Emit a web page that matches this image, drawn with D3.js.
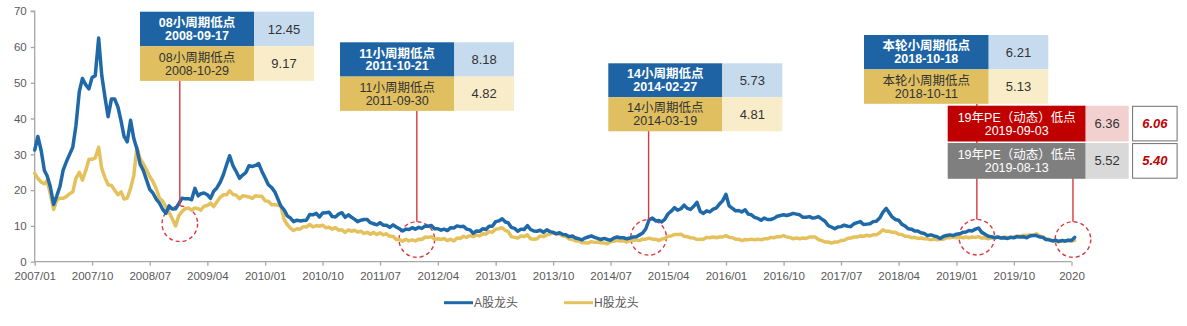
<!DOCTYPE html>
<html>
<head>
<meta charset="utf-8">
<script src="https://cdn.jsdelivr.net/npm/d3@7/dist/d3.min.js"></script>
<style>
  html, body { margin: 0; padding: 0; background: #fff; }
  svg { display: block; }
  text { font-family: "Liberation Sans", Arial, "Noto Sans CJK SC", sans-serif; }
</style>
</head>
<body>
<svg id="chart" width="1187" height="326"></svg>
<script>
// PE of A-share and H-share leaders, semi-monthly observations from 2007/01
const seriesNames = ["A股龙头", "H股龙头"];
const aLeaders = [
  31.2,35,31,25.5,24,21,16,18.4,21,25.5,28,30,32,38,47.5,51.2,49.4,48.3,51.5,52,
  62.5,52,46,40.5,45.5,45.5,43.2,39.2,35,33.5,39.5,34.5,31.5,27.3,25.4,22.8,20.2,19.2,17.5,16.4,
  14.6,13.5,15.6,14.7,14.8,16.2,17.7,17.6,17.6,17.3,20.5,18.4,19.0,19.2,18.7,17.7,19.7,20.6,22.2,24.3,
  27,29.6,26.8,25.2,23.3,24.2,24.9,26.8,26.6,26.9,27.4,25.3,23.4,21.5,20.7,19.5,17.7,15.6,14.5,12.8,
  12.2,11.2,11.6,11.4,11.5,11.6,13.2,13.1,13.5,12.5,13.6,13.7,13.8,12.6,12.5,13.3,13.7,12.4,13.1,12.4,
  11.9,11.2,11.6,11.8,11.8,10.9,10.6,10.3,10.9,10.2,10.2,9.6,10.3,9.7,9.2,8.6,9.1,9.0,9.5,9.1,
  9.6,9.3,10.0,9.9,10.1,9.2,9.2,8.8,9.1,8.7,9.5,9.4,10.0,9.8,9.9,9.1,8.9,7.9,8.6,8.5,
  9.2,9.0,9.9,9.9,11.2,11.4,12.0,11.1,10.9,9.6,9.3,8.5,9.1,9.0,10.1,9.0,8.6,8.5,8.8,8.2,
  8.9,8.4,8.2,7.8,8.1,7.6,7.5,7.0,7.2,6.6,6.4,6.1,6.6,6.9,7.2,6.8,6.5,6.2,6.5,6.2,
  6.0,6.6,6.9,6.7,6.7,6.4,6.6,6.9,7.0,7.5,8,9.2,11.8,12.2,11.4,11.5,11.1,11.8,13.4,14.1,
  15.1,14.4,14.8,15.8,14.9,14.6,15.5,16.6,14.0,13.5,14.2,13.9,14.7,15.0,16.1,17.0,18.8,15.6,14.9,14.2,
  14.3,13.9,14.5,13.3,13.1,12.4,12.1,11.6,12.2,11.8,11.8,12.1,12.7,12.9,13.1,12.9,13.2,13.5,13.3,13.1,
  12.4,12.4,12.6,12.2,12.3,12.6,11.9,11.3,10.1,9.7,9.2,9.7,9.8,10.2,9.9,9.8,10.6,10.9,11.2,10.4,
  10.5,10.6,11.2,11.3,12.2,13.8,14.9,13.6,12.5,11.8,11.6,10.5,10,9.2,9.1,8.6,8.6,8.1,7.9,7.3,
  7.5,7.2,7.0,6.5,7.1,7.3,7.5,7.3,7.7,7.8,8.2,8.3,8.7,8.6,9.1,9.4,8.2,7.7,7.1,7.0,
  6.7,6.9,6.6,6.7,6.5,6.8,6.7,7.0,6.9,7.0,6.7,7.2,7.3,7.3,6.9,6.8,6.2,6.1,5.8,6.0,
  5.7,5.9,5.8,6.0,5.9,6.8
];
const hLeaders = [
  24.7,23.3,22.2,21.8,22.6,19,14.6,17.3,17.7,17.7,18.2,19,19.5,23.3,25,22.8,25.5,28.6,28.6,29,
  32,26,23.5,21.5,21.3,20,18.7,19.5,17.5,17.8,20.5,24,32,28.8,27.3,25.6,23.8,22.4,20.4,17.8,
  16.9,15.3,13.8,12.0,10.0,12.8,14.0,14.8,15.0,14.4,15.0,14.8,14.4,15.5,15.7,16.4,15.4,16.7,18.0,18.7,
  18.7,19.8,18.8,18.6,17.6,18.4,18.3,18.1,17.7,18.4,18.3,18.3,17.0,16.9,15.9,16.0,15.8,15.7,11.8,10.4,
  9.4,8.7,9.2,9.1,9.8,9.7,10.4,9.7,10.1,9.9,10.2,9.5,9.6,9.1,9.5,8.8,8.9,8.2,8.9,8.5,
  8.8,8.3,8.5,7.9,8.2,7.7,8.2,7.6,8.1,7.5,7.8,7.1,7.1,6.2,6.2,5.7,6.3,5.8,6.1,5.8,
  6.3,6.2,6.9,6.8,7.0,6.3,6.4,6.2,6.5,5.9,6.3,5.8,6.6,6.5,7.1,6.8,7.3,7.0,7.5,7.2,
  7.8,7.7,8.4,8.2,9.1,9.2,9.5,8.7,8.5,7.0,6.8,6.6,7.2,7.0,7.5,6.4,6.3,6.4,7.2,7.0,
  7.5,7.7,8.2,7.8,7.7,7.2,7.1,6.4,6.2,5.8,5.8,5.3,5.3,5.2,5.6,5.4,5.5,5.3,5.2,5.0,
  5.6,5.7,6.0,5.8,5.8,5.5,5.9,5.9,6.1,5.9,6.3,6.3,6.6,6.3,6.3,5.9,6.3,6.5,7.1,7.2,
  7.6,7.6,7.7,7.1,7.0,6.7,6.6,6.2,6.3,6.3,6.8,6.7,6.9,6.7,6.9,6.9,7.3,6.8,6.7,6.3,
  6.3,5.9,6.2,6.1,6.3,6.1,6.3,6.1,6.4,6.4,6.8,6.7,7.0,7.0,7.3,6.9,6.8,6.4,6.6,6.4,
  6.6,6.5,6.9,6.9,6.9,6.2,5.9,5.5,5.5,5.2,5.5,5.5,5.9,6.0,6.5,6.6,6.9,6.9,7.2,7.1,
  7.4,7.2,7.5,7.5,8.1,8.9,8.5,8.5,8.2,8.2,7.7,7.6,7.1,7.1,6.7,6.8,6.5,6.6,6.4,6.4,
  6.1,6.3,6.1,6.3,6.3,6.7,6.7,6.9,6.7,6.9,6.7,6.9,6.7,6.9,6.8,7.0,6.6,6.7,6.4,6.7,
  6.6,6.9,6.7,6.9,6.7,6.9,6.8,7.2,7.1,7.4,7.3,7.5,7.4,7.8,7.2,6.9,6.4,6.3,5.9,5.7,
  5.5,5.9,5.8,6.0,5.8,6.0
];
const yTicks = [0, 10, 20, 30, 40, 50, 60, 70];
const xTickLabels = ["2007/01","2007/10","2008/07","2009/04","2010/01","2010/10","2011/07",
  "2012/04","2013/01","2013/10","2014/07","2015/04","2016/01","2016/10","2017/07","2018/04",
  "2019/01","2019/10","2020"];

// circled cycle lows
const markerDates = ["2008-11-21", "2011-12-23", "2014-12-29", "2019-04-08", "2020-07-08"];
const markerValues = [10.6, 6.2, 6.8, 6.85, 6.2];

// callout tables: upper row = A股, lower row = H股
const calloutTitles = [
  ["08小周期低点", "08小周期低点"],
  ["11小周期低点", "11小周期低点"],
  ["14小周期低点", "14小周期低点"],
  ["本轮小周期低点", "本轮小周期低点"],
  ["19年PE（动态）低点", "19年PE（动态）低点"]
];
const calloutDates = [
  ["2008-09-17", "2008-10-29"],
  ["2011-10-21", "2011-09-30"],
  ["2014-02-27", "2014-03-19"],
  ["2018-10-18", "2018-10-11"],
  ["2019-09-03", "2019-08-13"]
];
const calloutValues = [[12.45, 9.17], [8.18, 4.82], [5.73, 4.81], [6.21, 5.13], [6.36, 5.52]];
const dynamicPE = [6.06, 5.40];

const svg = d3.select("#chart");
const x0 = 34.7, x1 = 1071.5, yTop = 11.2, yBase = 261.7;

const dates = aLeaders.map((_, i) => new Date(2007, Math.floor(i / 2), i % 2 ? 16 : 1));
const x = d3.scaleTime().domain([new Date(2007, 0, 1), new Date(2020, 6, 1)]).range([x0, x1]);
const y = d3.scaleLinear().domain([0, 70]).range([yBase, yTop]);
const parse = d3.timeParse("%Y-%m-%d");

const axisColor = "#a6a6a6", labelColor = "#595959";

// y axis
const yAxis = svg.append("g").attr("transform", `translate(${x0},0)`)
  .call(d3.axisLeft(y).tickValues(yTicks).tickSize(4).tickPadding(4));
// x axis
const tickDates = xTickLabels.map((_, k) => new Date(2007, 9 * k, 1));
const xAxis = svg.append("g").attr("transform", `translate(0,${yBase})`)
  .call(d3.axisBottom(x).tickValues(tickDates).tickSize(4).tickPadding(6)
    .tickFormat((d, k) => xTickLabels[k]));
for (const g of [xAxis, yAxis]) {
  g.select(".domain").attr("stroke", axisColor).attr("stroke-width", 1.3);
  g.selectAll(".tick line").attr("stroke", axisColor).attr("stroke-width", 1.3);
  g.selectAll(".tick text").attr("fill", labelColor).style("font-size", "11.5px")
    .style("font-family", "'Liberation Sans', Arial, sans-serif");
}
yAxis.select(".domain").attr("d", `M-4,${yTop}H0V${yBase}`);
xAxis.select(".domain").attr("d", `M${x0},0H${x1}`);

// dashed circles around the lows
const red = "#d9393e";
const markerR = 17.8;
const markers = markerDates.map((d, k) => ({ cx: x(parse(d)), cy: y(markerValues[k]) }));
svg.append("g").selectAll("circle").data(markers).join("circle")
  .attr("cx", d => d.cx).attr("cy", d => d.cy).attr("r", markerR)
  .attr("fill", "none").attr("stroke", red).attr("stroke-width", 1.4)
  .attr("stroke-dasharray", "4,3");

// PE lines, H share underneath
const colors = ["#1f69a9", "#e5c15d"];
const line = d3.line().x((d, i) => x(dates[i])).y(d => y(d));
[[hLeaders, colors[1]], [aLeaders, colors[0]]].forEach(([s, c]) => {
  svg.append("path").datum(s).attr("d", line)
    .attr("fill", "none").attr("stroke", c)
    .attr("stroke-width", 3.5).attr("stroke-linejoin", "round").attr("stroke-linecap", "round");
});

// callout boxes
const boxes = [
  { left: 140, top: 11.7, lw: 114, vw: 60, rh: 34.6 },
  { left: 340, top: 42.3, lw: 114.3, vw: 59.7, rh: 34.3 },
  { left: 608.3, top: 63.3, lw: 114, vw: 60, rh: 34 },
  { left: 864, top: 35, lw: 124.7, vw: 59.6, rh: 34.4 },
  { left: 947.7, top: 105.7, lw: 138, vw: 43, rh: 35.8, gap: 1.5 }
];
const cycleRows = [
  { lab: "#1e64a4", val: "#c7dbee", txt: "#fff", bold: true },
  { lab: "#dfbf5f", val: "#f9edc9", txt: "#333", bold: false }
];
const palettes = [cycleRows, cycleRows, cycleRows, cycleRows, [
  { lab: "#c00000", val: "#f3d0d0", txt: "#fff", bold: false },
  { lab: "#7f7f7f", val: "#d9d9d9", txt: "#fff", bold: false }
]];

// connectors from boxes to circled lows (drawn first so boxes sit on top)
const connectors = [
  { m: 0, from: 81 }, { m: 1, from: 111 }, { m: 2, from: 131 }, { m: 3, from: 104 }, { m: 4, from: 177 }
];
svg.append("g").selectAll("line").data(connectors).join("line")
  .attr("x1", d => markers[d.m].cx).attr("x2", d => markers[d.m].cx)
  .attr("y1", d => d.from).attr("y2", d => markers[d.m].cy - markerR)
  .attr("stroke", red).attr("stroke-width", 1.4);

const fontCJK = "'Liberation Sans', Arial, 'Noto Sans CJK SC', sans-serif";
boxes.forEach((b, bi) => {
  const g = svg.append("g");
  for (let r = 0; r < 2; r++) {
    const p = palettes[bi][r];
    const gap = b.gap || 0;
    const top = b.top + r * (b.rh + gap);
    g.append("rect").attr("x", b.left).attr("y", top).attr("width", b.lw).attr("height", b.rh).attr("fill", p.lab);
    g.append("rect").attr("x", b.left + b.lw).attr("y", top).attr("width", b.vw).attr("height", b.rh).attr("fill", p.val);
    const cx = b.left + b.lw / 2, cy = top + b.rh / 2;
    const t = g.append("text").attr("text-anchor", "middle").attr("fill", p.txt)
      .style("font-size", "12.5px").style("font-family", fontCJK)
      .style("font-weight", p.bold ? 700 : 400);
    t.append("tspan").attr("x", cx).attr("y", cy - 6.2).attr("dy", "0.35em").text(calloutTitles[bi][r]);
    t.append("tspan").attr("x", cx).attr("y", cy + 6.6).attr("dy", "0.35em").text(calloutDates[bi][r]);
    g.append("text").attr("x", b.left + b.lw + b.vw / 2).attr("y", cy).attr("dy", "0.35em")
      .attr("text-anchor", "middle").attr("fill", "#333").style("font-size", "13px")
      .text(calloutValues[bi][r].toFixed(2));
    if (bi === 4) {
      const ex = 1132.6, ew = 44.5;
      g.append("rect").attr("x", ex).attr("y", top + 0.6).attr("width", ew).attr("height", b.rh - 1.2)
        .attr("fill", "#fff").attr("stroke", "#6f6f6f").attr("stroke-width", 1);
      g.append("text").attr("x", ex + ew / 2).attr("y", cy).attr("dy", "0.35em")
        .attr("text-anchor", "middle").attr("fill", "#c00000")
        .style("font-size", "13px").style("font-weight", 700).style("font-style", "italic")
        .text(dynamicPE[r].toFixed(2));
    }
  }
});

// legend
const legend = svg.append("g");
const legendX = [444, 564];
seriesNames.forEach((name, k) => {
  legend.append("line").attr("x1", legendX[k]).attr("x2", legendX[k] + 29)
    .attr("y1", 302.7).attr("y2", 302.7).attr("stroke", colors[k]).attr("stroke-width", 3);
  legend.append("text").attr("x", legendX[k] + 30).attr("y", 302.7).attr("dy", "0.35em")
    .attr("fill", labelColor).style("font-size", "12px").style("font-family", fontCJK).text(name);
});
</script>
</body>
</html>
